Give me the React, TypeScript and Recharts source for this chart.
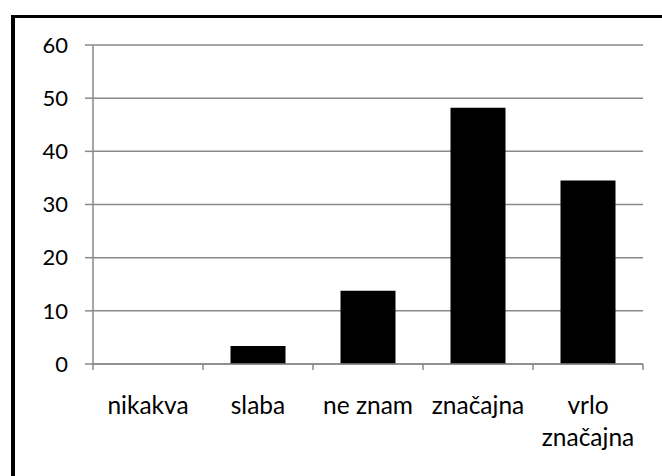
import React from 'react';
import { BarChart, Bar, XAxis, YAxis, CartesianGrid } from 'recharts';

const categories = ['nikakva', 'slaba', 'ne znam', 'značajna', 'vrlo značajna'];
const values = [0, 3.4, 13.8, 48.2, 34.5];
const yTicks = [0, 10, 20, 30, 40, 50, 60];

const data = categories.map((name, i) => ({ name, value: values[i] }));

const FONT = 'Lato, "Open Sans", sans-serif';
const GRID = '#898989';
const BAND = 110;

const CategoryTick = ({ x, y, payload, index }: any) => {
  const label: string = payload.value;
  const lines = label === 'vrlo značajna' ? ['vrlo', 'značajna'] : [label];
  return (
    <g>
      <line x1={x - BAND / 2} x2={x - BAND / 2} y1={y} y2={y + 6} stroke={GRID} strokeWidth={1.5} />
      {index === categories.length - 1 && (
        <line x1={x + BAND / 2} x2={x + BAND / 2} y1={y} y2={y + 6} stroke={GRID} strokeWidth={1.5} />
      )}
      {lines.map((l, i) => (
        <text key={i} x={x} y={y + 50 + i * 32} textAnchor="middle" fill="#000" fontSize={24.5} fontFamily={FONT}>
          {l}
        </text>
      ))}
    </g>
  );
};

export default function App() {
  return (
    <div style={{ position: 'fixed', left: 0, top: 0, width: 662, height: 476, overflow: 'hidden', background: '#fff' }}>
      <div
        style={{
          position: 'absolute',
          left: 11,
          top: 15,
          width: 700,
          height: 500,
          borderTop: '3px solid #000',
          borderLeft: '4px solid #000',
        }}
      />
      <div style={{ position: 'absolute', left: 0, top: 0 }}>
        <BarChart
          width={662}
          height={476}
          data={data}
          margin={{ top: 45, right: 19, bottom: 52, left: 23 }}
          barCategoryGap="25%"
        >
          <CartesianGrid vertical={false} stroke={GRID} strokeWidth={1.5} />
          <XAxis
            dataKey="name"
            height={60}
            interval={0}
            tickSize={0}
            tickMargin={0}
            tickLine={false}
            axisLine={{ stroke: GRID, strokeWidth: 1.5 }}
            tick={<CategoryTick />}
          />
          <YAxis
            width={70}
            domain={[0, 60]}
            ticks={yTicks}
            interval={0}
            tickSize={8}
            tickMargin={17}
            axisLine={{ stroke: GRID, strokeWidth: 1.5 }}
            tickLine={{ stroke: GRID, strokeWidth: 1.5 }}
            tick={{ fill: '#000', fontSize: 22, fontFamily: FONT }}
          />
          <Bar dataKey="value" fill="#000" isAnimationActive={false} />
        </BarChart>
      </div>
    </div>
  );
}
